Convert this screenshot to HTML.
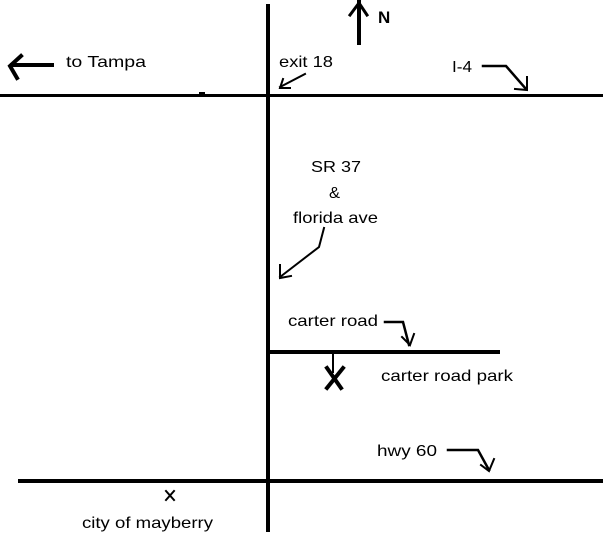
<!DOCTYPE html>
<html><head><style>
html,body{margin:0;padding:0;background:#fff;}
svg{display:block;}
text{font-family:"Liberation Sans",sans-serif;font-size:16px;fill:#000;}
</style></head><body>
<svg width="603" height="539" viewBox="0 0 603 539" xmlns="http://www.w3.org/2000/svg">
<g stroke="#000" fill="none" stroke-linecap="square">
<line x1="268" y1="6" x2="268" y2="530" stroke-width="4"/>
<line x1="0" y1="95.5" x2="603" y2="95.5" stroke-width="3"/>
<line x1="268" y1="352" x2="498" y2="352" stroke-width="4"/>
<line x1="20" y1="481" x2="603" y2="481" stroke-width="4"/>
<line x1="359" y1="2" x2="359" y2="43" stroke-width="4"/>
<polyline points="350,15 359,3 367,15" stroke-width="3"/>
<line x1="12" y1="65" x2="52" y2="65" stroke-width="4"/>
<polyline points="21,56 10,66 17,78" stroke-width="4"/>
<line x1="305" y1="74" x2="280" y2="87" stroke-width="2"/>
<polyline points="283,79 280,88 290,88" stroke-width="2"/>
<polyline points="483,66 506,66 526,89" stroke-width="2.5"/>
<polyline points="527,77 527,90 515,89" stroke-width="2"/>
<polyline points="324,228 319,247 280,277" stroke-width="2"/>
<polyline points="280,265 280,278 291,276" stroke-width="2"/>
<polyline points="385,322 403,322 409,345" stroke-width="2.5"/>
<polyline points="402,337 410,345 414,334" stroke-width="2"/>
<line x1="333" y1="352" x2="333" y2="372" stroke-width="2"/>
<polyline points="327,368 341,388" stroke-width="4"/>
<polyline points="343,368 327,388" stroke-width="4"/>
<polyline points="448,450 478,450 489,470" stroke-width="2.5"/>
<polyline points="481,465 489,471 494,459" stroke-width="2"/>
<line x1="166" y1="491" x2="174" y2="500" stroke-width="2"/>
<line x1="174" y1="491" x2="166" y2="500" stroke-width="2"/>
<line x1="200" y1="93" x2="204" y2="93" stroke-width="2"/>
</g>
<text x="378" y="23" style="font-weight:bold;font-size:17px">N</text>
<text x="66" y="67" textLength="80" lengthAdjust="spacingAndGlyphs">to Tampa</text>
<text x="279" y="67" textLength="54" lengthAdjust="spacingAndGlyphs">exit 18</text>
<text x="452" y="72" textLength="20" lengthAdjust="spacingAndGlyphs">I-4</text>
<text x="311" y="172" textLength="50" lengthAdjust="spacingAndGlyphs">SR 37</text>
<text x="329" y="198" textLength="11" lengthAdjust="spacingAndGlyphs">&amp;</text>
<text x="293" y="223" textLength="85" lengthAdjust="spacingAndGlyphs">florida ave</text>
<text x="288" y="326" textLength="90" lengthAdjust="spacingAndGlyphs">carter road</text>
<text x="381" y="381" textLength="132" lengthAdjust="spacingAndGlyphs">carter road park</text>
<text x="377" y="456" textLength="60" lengthAdjust="spacingAndGlyphs">hwy 60</text>
<text x="82" y="528" textLength="131" lengthAdjust="spacingAndGlyphs">city of mayberry</text>
</svg>
</body></html>
